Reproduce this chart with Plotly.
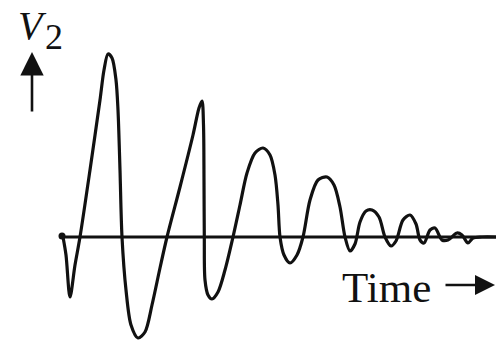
import plotly.graph_objects as go

# Time (relative units) and V2 (relative units)
time = [1, 4, 8, 13, 18, 28, 38, 42, 46, 50, 54, 56, 58, 60, 64, 69, 76, 83, 90, 98, 105,
        118, 131, 137, 140, 141.5, 142, 142.3, 143, 146, 150, 156, 163, 171,
        178, 185, 193, 201, 208, 213, 216, 218, 222, 228, 235, 241,
        248, 256, 265, 272, 278, 283, 288, 293, 298, 304, 310, 317, 323,
        329, 334, 341, 348, 354, 358, 362, 368, 373, 380, 386, 395, 400, 406, 411, 420, 434]
v2 = [0, -18, -60, -28, 0, 67, 137, 167, 183, 179, 157, 127, 67, 0, -53, -88, -101, -95, -68, -31, 0,
      50, 102, 129, 136, 112, 57, 0, -43, -58, -62, -55, -33, 0,
      32, 64, 84, 89, 82, 62, 32, 0, -18, -26, -18, 0,
      37, 57, 60, 52, 30, 0, -14, -7, 15, 26, 27, 20, 0,
      -9, -4, 17, 22, 13, -3, -6, 7, 9, -3, -3, 4, 2, -6, -1, 0, 0]

axis_end = 434

fig = go.Figure()
fig.add_trace(go.Scatter(x=time, y=v2, mode="lines",
                         line=dict(color="#111111", width=3.2, shape="spline", smoothing=0.85),
                         hoverinfo="skip"))
# time axis
fig.add_trace(go.Scatter(x=[0, axis_end], y=[0, 0], mode="lines",
                         line=dict(color="#111111", width=3), hoverinfo="skip"))
fig.add_trace(go.Scatter(x=[0], y=[1], mode="markers",
                         marker=dict(color="#111111", size=7), hoverinfo="skip"))

ann = []
# V2 label
ann.append(dict(x=-30, y=236, yanchor="top", text="<i>V</i>", showarrow=False, xref="x", yref="y",
                font=dict(family="Liberation Serif", size=40, color="#111111")))
ann.append(dict(x=-8, y=200, text="2", showarrow=False, xref="x", yref="y",
                font=dict(family="Liberation Serif", size=36, color="#111111")))
# up arrow
ann.append(dict(x=-30, y=185, ax=0, ay=61, text="", showarrow=True, xref="x", yref="y",
                arrowhead=2, arrowsize=1.8, arrowwidth=2.6, arrowcolor="#111111"))
# Time label
ann.append(dict(x=324, y=-50, text="Time", showarrow=False, xref="x", yref="y",
                font=dict(family="Liberation Serif", size=43, color="#111111")))
ann.append(dict(x=433, y=-48, ax=-51, ay=0, text="", showarrow=True, xref="x", yref="y",
                arrowhead=2, arrowsize=1.6, arrowwidth=2.5, arrowcolor="#111111"))

fig.update_layout(
    width=496, height=342, margin=dict(l=0, r=0, t=0, b=0),
    paper_bgcolor="white", plot_bgcolor="white", showlegend=False,
    xaxis=dict(range=[-62, 434], visible=False, fixedrange=True),
    yaxis=dict(range=[-105, 237], visible=False, fixedrange=True),
    annotations=ann,
)
fig.write_html("out.html", config={"displayModeBar": False},
               post_script="document.body.style.margin='0';document.body.style.overflow='hidden';")
